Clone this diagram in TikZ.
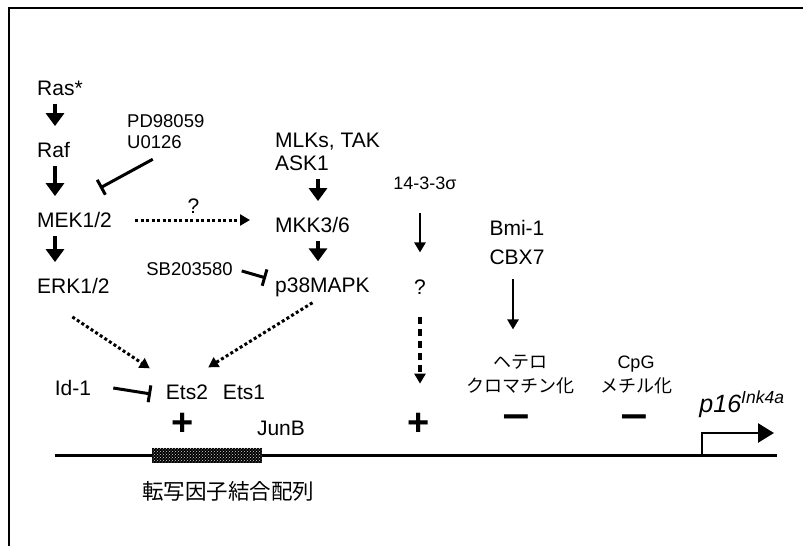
\documentclass[tikz,border=0pt]{standalone}
\usepackage{fontspec}
\setmainfont{Liberation Sans}
\newfontfamily\jpfont{Noto Sans CJK JP}
\usetikzlibrary{arrows.meta,patterns,calc}

\begin{document}
\begin{tikzpicture}[x=1pt,y=-1pt,
  lbl/.style={font=\fontsize{21}{23}\selectfont, inner sep=2pt},
  small/.style={font=\fontsize{18.5}{21}\selectfont, inner sep=2pt},
  jp/.style={font=\jpfont\fontsize{18}{24}\selectfont, inner sep=2pt, align=center},
  sign/.style={font=\bfseries\fontsize{38}{38}\selectfont, inner sep=0pt},
  bigarrow/.style={line width=3.5pt, -{Triangle[length=13pt,width=18pt]}, shorten <=6pt, shorten >=14pt},
  thinarrow/.style={line width=2.5pt, -{Triangle[length=10pt,width=11pt]}},
  dotarrow/.style={line width=3pt, dash pattern=on 3pt off 2.5pt, -{Triangle[length=10pt,width=11pt]}},
  dasharrow/.style={line width=3.5pt, dash pattern=on 7pt off 5pt, -{Triangle[length=10pt,width=11pt]}},
  inhibit/.style={line width=3pt, -{Bar[width=17pt]}},
  tfbs/.style={minimum width=110pt, minimum height=15pt, inner sep=0pt, fill=black,
    postaction={pattern=crosshatch dots, pattern color=white!85!black}},
]
\useasboundingbox (0,0) rectangle (803,546);

% frame (top and left only)
\draw[line width=1.5pt] (803,8) -- (9,8) -- (9,546);

% MAPK cascade, left column
\node[lbl, anchor=west] (ras) at (35,88) {Ras*};
\node[lbl, anchor=west] (raf) at (35,150) {Raf};
\node[lbl, anchor=west] (mek) at (35,220) {MEK1/2};
\node[lbl, anchor=west] (erk) at (35,286) {ERK1/2};
\coordinate (col) at (55,0);
\draw[bigarrow] (ras.south -| col) -- (raf.north -| col);
\draw[bigarrow] (raf.south -| col) -- (mek.north -| col);
\draw[bigarrow] (mek.south -| col) -- (erk.north -| col);

% MEK inhibitors
\node[small, anchor=west, align=left] (pd) at (125,132) {PD98059\\U0126};
\coordinate (mekbar) at (100,188);
\draw[inhibit] ([shift={(-13,8)}]pd.south) -- (mekbar);

% p38 branch
\node[lbl, anchor=west, align=left] (mlk) at (273,152) {MLKs, TAK\\ASK1};
\node[lbl, anchor=west] (mkk) at (273,225) {MKK3/6};
\node[lbl, anchor=west] (p38) at (273,287) {p38MAPK};
\coordinate (col2) at (318,0);
\draw[bigarrow] (mlk.south -| col2) -- (mkk.north -| col2);
\draw[bigarrow] (mkk.south -| col2) -- (p38.north -| col2);

\draw[dotarrow, shorten <=21pt, shorten >=23pt] (mek.east) -- (mek.east -| mkk.west)
  node[lbl, pos=0.5, above=3pt] {?};

\node[small, anchor=east] (sb) at (235,269) {SB203580};
\coordinate (p38bar) at (266,278);
\draw[inhibit, shorten <=7pt] (sb.east) -- (p38bar);

% Ets factors
\node[lbl] (id) at (73,388) {Id-1};
\node[lbl] (ets2) at (187,392) {Ets2};
\node[lbl] (ets1) at (244,392) {Ets1};
\node[lbl] (junb) at (281,428) {JunB};
\node[sign] (plus1) at (183,424) {+};
\coordinate (ets2bar) at (151,394);
\draw[inhibit] ([xshift=20pt]id.east) -- (ets2bar);

\draw[dotarrow] ([shift={(-1,21)}]erk.south) -- ([shift={(-14,-14)}]ets2.north west);
\draw[dotarrow] ([shift={(-10,4)}]p38.south) -- ([shift={(-2,-15)}]ets2.north east);

% 14-3-3 sigma
\node[font=\fontsize{18}{20}\selectfont, inner sep=2pt] (sig) at (425,183) {14-3-3σ};
\node[lbl] (q2) at (420,287) {?};
\node[sign] (plus2) at (419,424) {+};
\draw[thinarrow, shorten <=21pt, shorten >=25pt] (q2 |- sig.south) -- (q2.north);
\draw[dasharrow, shorten <=20pt, shorten >=29pt] (q2.south) -- (q2.south |- plus2.north);

% polycomb / methylation
\node[lbl, font=\fontsize{21}{29}\selectfont, align=center] (bmi) at (517,242) {Bmi-1\\CBX7};
\node[jp] (het) at (520,375) {ヘテロ\\クロマチン化};
\node[jp] (cpg) at (636,375) {{\normalfont CpG}\\メチル化};
\coordinate (col3) at (513,0);
\draw[thinarrow, shorten <=13pt, shorten >=24pt] (bmi.south -| col3) -- (het.north -| col3);
\node[sign, xscale=1.25, transform shape] (minus1) at (516,422) {−};
\node[sign, xscale=1.25, transform shape] (minus2) at (634,422) {−};

% DNA and promoter
\coordinate (dnaL) at (55,455);
\coordinate (dnaR) at (777,455);
\draw[line width=3pt] (dnaL) -- (dnaR);
\node[tfbs] (box) at (207,455) {};
\node[font=\jpfont\fontsize{21.5}{24}\selectfont] (boxlabel) at (228,491) {転写因子結合配列};

\node[font=\itshape\fontsize{25}{28}\selectfont, inner sep=0pt] (p16) at (742,404) {p16\textsuperscript{Ink4a}};
\coordinate (tss) at (702,455);
\coordinate (tssend) at (774,433);
\draw[line width=2.5pt, -{Triangle[length=16pt,width=19pt]}] (tss) |- (tssend);

\end{tikzpicture}
\end{document}
